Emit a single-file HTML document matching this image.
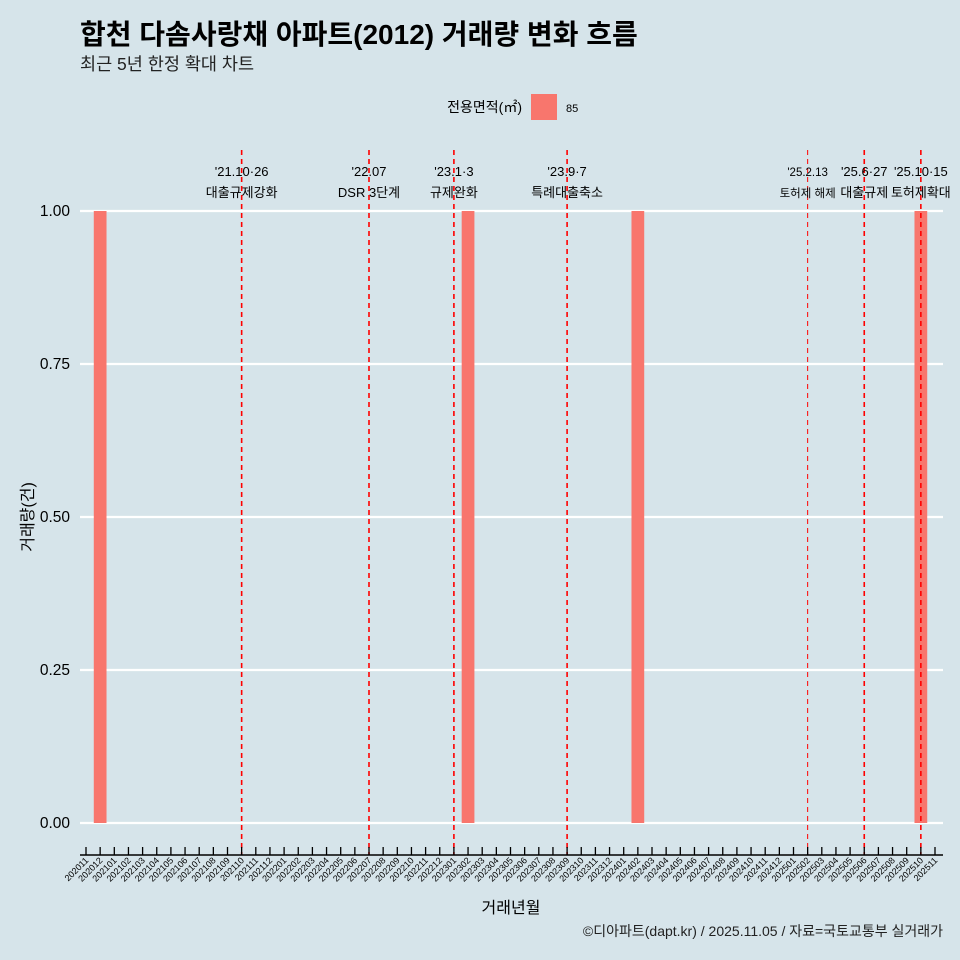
<!DOCTYPE html>
<html><head><meta charset="utf-8"><style>
html,body{margin:0;padding:0;overflow:hidden;width:960px;height:960px;background:#d6e4ea;font-family:"Liberation Sans","Noto Sans CJK KR",sans-serif;}
svg{display:block;}
svg text{font-family:"Liberation Sans","Noto Sans CJK KR",sans-serif;}
</style></head><body>
<svg id="c" width="960" height="960" xmlns="http://www.w3.org/2000/svg">
<rect width="960" height="960" fill="#d6e4ea"/>
<text x="80" y="44" font-size="28" font-weight="bold" fill="#000">합천 다솜사랑채 아파트(2012) 거래량 변화 흐름</text>
<text x="80" y="70" font-size="17.5" fill="#222">최근 5년 한정 확대 차트</text>
<g>
<text x="522" y="112" font-size="14" text-anchor="end">전용면적(㎡)</text>
<rect x="531" y="94" width="26" height="26" fill="#f8766d"/>
<text x="566" y="112" font-size="11">85</text>
</g>
<g id="grid"></g><g id="bars"></g><g id="vlines"></g><g id="axes"></g>
<text x="511" y="913" font-size="16" text-anchor="middle">거래년월</text>
<text transform="translate(33,517) rotate(-90)" font-size="16" text-anchor="middle">거래량(건)</text>
<text x="943" y="936" font-size="14" text-anchor="end" fill="#222">©디아파트(dapt.kr) / 2025.11.05 / 자료=국토교통부 실거래가</text>
</svg>
<script>
const categories=[];
for(let y=2020,m=11;y<2025||(y===2025&&m<=11);){categories.push(y+String(m).padStart(2,'0'));m++;if(m>12){m=1;y++;}}
const barMonths=["202012","202302","202402","202510"];
const barValues=[1,1,1,1];
const yTicks=[0,0.25,0.5,0.75,1];
const yTickLabels=["0.00","0.25","0.50","0.75","1.00"];
const eventMonths=["202110","202207","202301","202309","202502","202506","202510"];
const eventDates=["'21.10·26","'22.07","'23.1·3","'23.9·7","'25.2.13","'25.6·27","'25.10·15"];
const eventLabels=["대출규제강화","DSR 3단계","규제완화","특례대출축소","토허제 해제","대출규제","토허제확대"];
const eventThin=[false,false,false,false,true,false,false];
const NS="http://www.w3.org/2000/svg";
const x0=86,step=(935-86)/(categories.length-1);
const xs=c=>x0+categories.indexOf(c)*step;
const ys=v=>823-v*(823-211);
function mk(t,a,p){const e=document.createElementNS(NS,t);for(const k in a)e.setAttribute(k,a[k]);document.getElementById(p).appendChild(e);return e;}
yTicks.forEach((v,i)=>{
 const g=mk('line',{x1:80,x2:943,y1:ys(v),y2:ys(v),stroke:'#fff','stroke-width':2.2},'grid');
 
 
 const t=mk('text',{x:70,y:ys(v)+5,'font-size':15.5,'text-anchor':'end'},'axes');t.textContent=yTickLabels[i];
 
 
});
barMonths.forEach((m,i)=>{
 const b=mk('rect',{x:xs(m)-step*0.45,y:ys(barValues[i]),width:step*0.9,height:ys(0)-ys(barValues[i]),fill:'#f8766d'},'bars');
 
 
});
eventMonths.forEach((m,i)=>{
 const x=xs(m);
 const l=mk('line',{x1:x,x2:x,y1:150,y2:855,stroke:'#f00','stroke-width':eventThin[i]?1:1.6,'stroke-dasharray':'5,4'},'vlines');
 
 
 const fs=eventThin[i]?11.5:13;
 const d=mk('text',{x:x,y:176,'font-size':fs,'text-anchor':'middle'},'vlines');d.textContent=eventDates[i];
 
 
 const t=mk('text',{x:x,y:197,'font-size':fs,'text-anchor':'middle'},'vlines');t.textContent=eventLabels[i];
 
 
});
const ax=mk('line',{x1:80,x2:943,y1:855,y2:855,stroke:'#000','stroke-width':1.5},'axes');


categories.forEach(c=>{
 const x=xs(c);
 const tk=mk('line',{x1:x,x2:x,y1:847,y2:855,stroke:'#000','stroke-width':1.3},'axes');
 
 
 const t=mk('text',{transform:`translate(${x+3},861) rotate(-45)`,'font-size':9,'text-anchor':'end'},'axes');t.textContent=c;
 
 
});
</script>
</body></html>
